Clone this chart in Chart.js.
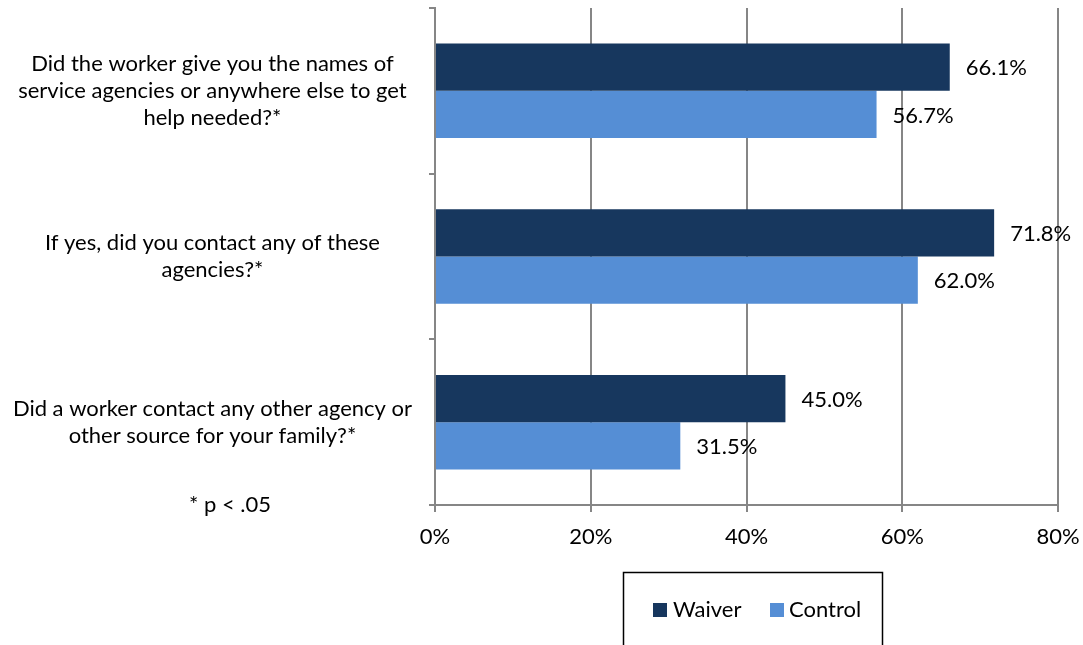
<!DOCTYPE html>
<html>
<head>
<meta charset="utf-8">
<script src="https://cdn.jsdelivr.net/npm/chart.js@4"></script>
<style>
  html, body { margin: 0; padding: 0; background: #fff; overflow: hidden; }
</style>
</head>
<body>
<canvas id="refChart" width="1083" height="645"></canvas>
<script>
const categories = [
    ['Did the worker give you the names of', 'service agencies or anywhere else to get', 'help needed?*'],
    ['If yes, did you contact any of these', 'agencies?*'],
    ['Did a worker contact any other agency or', 'other source for your family?*']
];
const waiverValues = [66.1, 71.8, 45.0];
const controlValues = [56.7, 62.0, 31.5];
const seriesNames = ['Waiver', 'Control'];
const seriesColors = ['#17375E', '#558ED5'];
const xTicks = [0, 20, 40, 60, 80];

const FONT = 'Lato, "Liberation Sans", sans-serif';
const FONT_SIZE = 22;
const axisGray = '#868686';

// value labels to the right of each bar
const barLabels = {
    id: 'barLabels',
    afterDatasetsDraw(chart) {
        const ctx = chart.ctx;
        ctx.save();
        ctx.font = FONT_SIZE + 'px ' + FONT;
        ctx.fillStyle = '#000';
        ctx.textAlign = 'left';
        ctx.textBaseline = 'middle';
        chart.data.datasets.forEach((ds, i) => {
            chart.getDatasetMeta(i).data.forEach((bar, j) => {
                ctx.fillText(ds.data[j].toFixed(1) + '%', bar.x + 16, bar.y + 1);
            });
        });
        ctx.restore();
    }
};

// footnote and boxed legend under the axis
const extras = {
    id: 'extras',
    afterDraw(chart) {
        const ctx = chart.ctx;
        ctx.save();
        ctx.font = FONT_SIZE + 'px ' + FONT;
        ctx.fillStyle = '#000';
        ctx.textBaseline = 'middle';
        ctx.textAlign = 'center';
        ctx.fillText('* p < .05', 230, 505);

        ctx.strokeStyle = '#000';
        ctx.lineWidth = 1.5;
        ctx.strokeRect(623.5, 572.5, 259, 90);

        ctx.textAlign = 'left';
        const items = [[653, 673], [770, 789]];
        chart.data.datasets.forEach((ds, i) => {
            ctx.fillStyle = ds.backgroundColor;
            ctx.fillRect(items[i][0], 603, 14, 14);
            ctx.fillStyle = '#000';
            ctx.fillText(ds.label, items[i][1], 610);
        });
        ctx.restore();
    }
};

new Chart(document.getElementById('refChart').getContext('2d'), {
    type: 'bar',
    data: {
        labels: categories,
        datasets: [
            { label: seriesNames[0], data: waiverValues, backgroundColor: seriesColors[0] },
            { label: seriesNames[1], data: controlValues, backgroundColor: seriesColors[1] }
        ]
    },
    plugins: [barLabels, extras],
    options: {
        indexAxis: 'y',
        responsive: false,
        animation: false,
        devicePixelRatio: 1,
        layout: { padding: { top: 8, right: 25, left: 0, bottom: 0 } },
        datasets: { bar: { categoryPercentage: 0.57, barPercentage: 1.0 } },
        plugins: {
            legend: { display: false },
            tooltip: { enabled: false }
        },
        scales: {
            x: {
                min: 0,
                max: 80,
                afterBuildTicks(axis) {
                    axis.ticks = xTicks.map(v => ({ value: v }));
                },
                afterFit(axis) {
                    axis.height = 140;
                    axis.paddingLeft = 0;
                    axis.paddingRight = 0;
                },
                ticks: {
                    callback: v => v + '%',
                    color: '#000',
                    padding: 12,
                    font: { family: FONT, size: FONT_SIZE }
                },
                grid: { color: axisGray, lineWidth: 2, tickLength: 7 },
                border: { color: axisGray, width: 2 }
            },
            y: {
                afterFit(axis) {
                    axis.width = 435;
                    // multi-line labels sit inside their bands, no extra room needed
                    axis.paddingTop = 0;
                    axis.paddingBottom = 0;
                },
                ticks: {
                    color: '#000',
                    padding: 17,
                    crossAlign: 'center',
                    font: { family: FONT, size: FONT_SIZE, lineHeight: 1.23 }
                },
                grid: { color: axisGray, lineWidth: 2, drawOnChartArea: false, tickLength: 6 },
                border: { color: axisGray, width: 2 }
            }
        }
    }
});
</script>
</body>
</html>
